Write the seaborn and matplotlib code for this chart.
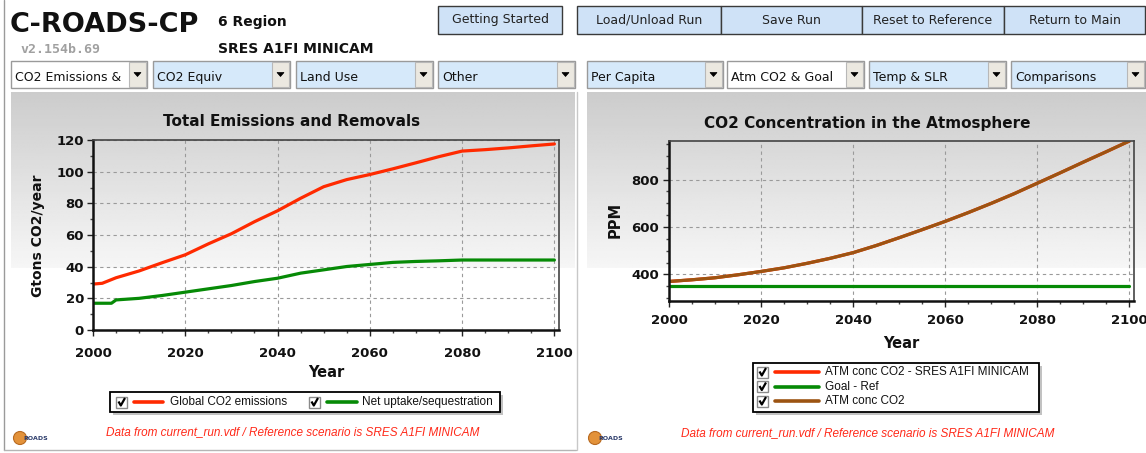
import matplotlib

matplotlib.use("Agg")
import matplotlib.pyplot as plt
import numpy as np
import pandas as pd
import seaborn as sns
from matplotlib.patches import Rectangle, Circle, Polygon
from matplotlib.ticker import MultipleLocator

W, H = 1146, 453

# Left chart: Total Emissions and Removals (Gtons CO2/year)
years_emis = [2000, 2002, 2005, 2010, 2015, 2020, 2025, 2030, 2035, 2040, 2045,
              2050, 2055, 2060, 2065, 2070, 2075, 2080, 2085, 2090, 2095, 2100]
global_co2 = [29.0, 29.5, 33.0, 37.3, 42.5, 47.5, 54.4, 60.8, 68.4, 75.3, 83.2,
              90.5, 95.0, 98.2, 101.8, 105.6, 109.5, 113.0, 113.9, 115.0, 116.3, 117.5]
years_uptake = [2000, 2004, 2005, 2010, 2015, 2020, 2025, 2030, 2035, 2040, 2045,
                2050, 2055, 2060, 2065, 2070, 2075, 2080, 2090, 2100]
net_uptake = [16.9, 16.9, 19.0, 20.0, 21.8, 23.9, 26.0, 28.1, 30.6, 32.7, 35.9,
              38.0, 40.1, 41.4, 42.7, 43.3, 43.7, 44.2, 44.2, 44.2]

# Right chart: CO2 Concentration in the Atmosphere (PPM)
years_ppm = [2000, 2005, 2010, 2015, 2020, 2025, 2030, 2035, 2040, 2045, 2050,
             2055, 2060, 2065, 2070, 2075, 2080, 2085, 2090, 2095, 2100]
atm_co2 = [370.4, 377.5, 386.0, 398.6, 412.7, 428.0, 447.0, 468.0, 492.0, 522.0, 555.0,
           589.0, 624.0, 661.0, 700.0, 741.0, 785.0, 829.0, 874.0, 918.0, 963.0]
atm_co2_ref = [370.4, 377.5, 386.0, 398.6, 412.7, 428.0, 447.0, 468.0, 492.0, 522.0, 555.0,
               589.0, 624.0, 661.0, 700.0, 741.0, 785.0, 829.0, 874.0, 918.0, 963.0]
goal_years = [2000, 2100]
goal_ppm = [350, 350]

left_legend = ["Global CO2 emissions", "Net uptake/sequestration"]
right_legend = ["ATM conc CO2 - SRES A1FI MINICAM", "Goal - Ref", "ATM conc CO2"]
buttons = ["Getting Started", "Load/Unload Run", "Save Run", "Reset to Reference", "Return to Main"]
dropdowns = ["CO2 Emissions &", "CO2 Equiv", "Land Use", "Other",
             "Per Capita", "Atm CO2 & Goal", "Temp & SLR", "Comparisons"]
footer = "Data from current_run.vdf / Reference scenario is SRES A1FI MINICAM"

RED = "#ff2a00"
GREEN = "#068a06"
BROWN = "#9c5412"
FOOT_RED = "#ff2a1a"

sns.set_theme(style="white")
plt.rcParams["font.family"] = ["DejaVu Sans"]

fig = plt.figure(figsize=(W / 100, H / 100), dpi=100)
bg = fig.add_axes([0, 0, 1, 1])
bg.axis("off")


def px_axes(x0, y0, x1, y1):
    return fig.add_axes([x0 / W, 1 - y1 / H, (x1 - x0) / W, (y1 - y0) / H])


# panel backgrounds: gray gradient fading to white
grad = np.linspace(0.80, 0.965, 120)
grad = np.repeat(grad[:, None], 2, axis=1)
for x0, x1 in [(11, 575), (587, 1146)]:
    bg.add_patch(Rectangle((x0, 92), x1 - x0, 358, facecolor="white", edgecolor="none", zorder=0))
    bg.imshow(grad, cmap="gray", vmin=0, vmax=1, extent=(x0, x1, 268, 92),
              aspect="auto", interpolation="bilinear", zorder=1)

bg.set_xlim(0, W)
bg.set_ylim(H, 0)

# frame lines
bg.plot([3.5, 3.5], [0, 450], color="#9a9a9a", lw=1, zorder=2)
bg.plot([3.5, 576], [449.5, 449.5], color="#b5b5b5", lw=1, zorder=2)
bg.plot([576.5, 576.5], [92, 450], color="#c8c8c8", lw=1, zorder=2)

# header
bg.text(10, 32, "C-ROADS-CP", fontsize=19.5, fontweight="bold", color="#111111", va="baseline")
bg.text(20, 53, "v2.154b.69", fontsize=9.5, fontweight="bold", color="#a0a0a0",
        family="DejaVu Sans Mono", va="baseline")
bg.text(218, 26, "6 Region", fontsize=10, fontweight="bold", color="#111111", va="baseline")
bg.text(218, 53, "SRES A1FI MINICAM", fontsize=10, fontweight="bold", color="#111111", va="baseline")

btn_x = [(438, 562), (577, 721), (721, 862), (862, 1004), (1004, 1145)]
for (x0, x1), label in zip(btn_x, buttons):
    bg.add_patch(Rectangle((x0, 6), x1 - x0, 28, facecolor="#cfe2f7", edgecolor="#3a3a3a", lw=1, zorder=3))
    bg.text((x0 + x1) / 2, 20, label, fontsize=9, color="#222222", ha="center", va="center", zorder=4)

dd_x = [(11, 147), (153, 290), (296, 433), (438, 575), (587, 723), (727, 864), (869, 1006), (1011, 1145)]
dd_white = {0, 5}
for i, ((x0, x1), label) in enumerate(zip(dd_x, dropdowns)):
    fc = "white" if i in dd_white else "#d6e9fa"
    bg.add_patch(Rectangle((x0, 61), x1 - x0, 27, facecolor=fc, edgecolor="#9a9a9a", lw=1, zorder=3))
    t = bg.text(x0 + 4, 81, label, fontsize=9, color="#111111", va="baseline", zorder=4)
    bg.add_patch(Rectangle((x1 - 18, 62), 17, 25, facecolor="#ebe8e0", edgecolor="#b8b8b8", lw=0.8, zorder=5))
    cx = x1 - 9.5
    bg.add_patch(Polygon([(cx - 3.5, 72.5), (cx + 3.5, 72.5), (cx, 76.5)], closed=True,
                         facecolor="black", edgecolor="black", lw=0.5, zorder=6))


def style_axes(ax, xpad, ypad):
    ax.set_facecolor("none")
    ax.grid(True, which="major", color="#9a9a9a", linestyle=(0, (3, 3)), linewidth=0.8)
    ax.xaxis.set_major_locator(MultipleLocator(20))
    ax.xaxis.set_minor_locator(MultipleLocator(5))
    for side in ["top", "right"]:
        ax.spines[side].set_color("#444444")
        ax.spines[side].set_linewidth(1.2)
    for side in ["left", "bottom"]:
        ax.spines[side].set_color("#111111")
        ax.spines[side].set_linewidth(1.8)
        ax.spines[side].set_visible(True)
    ax.tick_params(which="major", direction="out", length=4, width=1, color="#222222",
                   bottom=True, left=True, labelsize=9.5, labelcolor="#111111")
    ax.tick_params(which="minor", direction="out", length=2.5, width=1, color="#444444",
                   bottom=True, left=True)
    ax.tick_params(axis="x", pad=xpad)
    ax.tick_params(axis="y", pad=ypad)
    for lab in ax.get_xticklabels() + ax.get_yticklabels():
        lab.set_fontweight("bold")
    ax.set_xlabel("")
    ax.set_ylabel("")


# left chart
axL = px_axes(93, 140, 559, 330)
emis = pd.DataFrame({"year": years_emis, "value": global_co2})
upt = pd.DataFrame({"year": years_uptake, "value": net_uptake})
sns.lineplot(data=emis, x="year", y="value", ax=axL, color=RED, lw=2.3, legend=False)
sns.lineplot(data=upt, x="year", y="value", ax=axL, color=GREEN, lw=2.3, legend=False)
axL.set_xlim(2000, 2101)
axL.set_ylim(0, 120)
axL.yaxis.set_major_locator(MultipleLocator(20))
axL.yaxis.set_minor_locator(MultipleLocator(10))
style_axes(axL, xpad=8, ypad=2.5)

# right chart
axR = px_axes(669, 141, 1134, 301)
ref = pd.DataFrame({"year": years_ppm, "value": atm_co2_ref})
cur = pd.DataFrame({"year": years_ppm, "value": atm_co2})
goal = pd.DataFrame({"year": goal_years, "value": goal_ppm})
sns.lineplot(data=ref, x="year", y="value", ax=axR, color=RED, lw=2.3, legend=False)
sns.lineplot(data=goal, x="year", y="value", ax=axR, color=GREEN, lw=2.3, legend=False)
sns.lineplot(data=cur, x="year", y="value", ax=axR, color=BROWN, lw=2.3, legend=False)
axR.set_xlim(2000, 2101)
axR.set_ylim(288, 963)
axR.yaxis.set_major_locator(MultipleLocator(200))
axR.yaxis.set_minor_locator(MultipleLocator(50))
style_axes(axR, xpad=5.5, ypad=3.4)

# titles and axis labels
bg.text(292, 126, "Total Emissions and Removals", fontsize=11, fontweight="bold",
        color="#111111", ha="center", va="baseline")
bg.text(867, 128, "CO2 Concentration in the Atmosphere", fontsize=11, fontweight="bold",
        color="#111111", ha="center", va="baseline")
bg.text(38, 236, "Gtons CO2/year", fontsize=10, fontweight="bold", color="#111111",
        rotation=90, ha="center", va="center")
bg.text(615, 220, "PPM", fontsize=10.5, fontweight="bold", color="#111111",
        rotation=90, ha="center", va="center")
bg.text(326, 377, "Year", fontsize=10.5, fontweight="bold", color="#111111", ha="center", va="baseline")
bg.text(901, 348, "Year", fontsize=10.5, fontweight="bold", color="#111111", ha="center", va="baseline")


def checkbox(x, y):
    bg.add_patch(Rectangle((x, y - 5.5), 11, 11, facecolor="white", edgecolor="#8a8a8a", lw=1, zorder=8))
    bg.plot([x + 2.5, x + 4.8, x + 9], [y - 0.5, y + 3.5, y - 4], color="black", lw=1.6, zorder=9,
            solid_capstyle="butt")


def legend_box(x0, y0, x1, y1):
    bg.add_patch(Rectangle((x0 + 3, y0 + 3), x1 - x0, y1 - y0, facecolor="#9a9a9a",
                           edgecolor="none", alpha=0.6, zorder=6))
    bg.add_patch(Rectangle((x0, y0), x1 - x0, y1 - y0, facecolor="white",
                           edgecolor="black", lw=1.3, zorder=7))


# left legend
legend_box(110, 392, 500, 412)
for (cbx, lx0, lx1, tx), label, col in zip([(116, 134, 163, 170), (309, 327, 357, 362)],
                                           left_legend, [RED, GREEN]):
    checkbox(cbx, 402)
    bg.plot([lx0, lx1], [402, 402], color=col, lw=2.6, zorder=9)
    bg.text(tx, 402, label, fontsize=8.5, family="Liberation Sans", color="#111111",
            va="center", zorder=9)

# right legend
legend_box(753, 363, 1039, 412)
for yy, label, col in zip([372, 386.5, 401], right_legend, [RED, GREEN, BROWN]):
    checkbox(757, yy)
    bg.plot([775, 819], [yy, yy], color=col, lw=2.6, zorder=9)
    bg.text(825, yy, label, fontsize=8.5, family="Liberation Sans", color="#111111",
            va="center", zorder=9)

# footers and logos
for cx, base, lx in [(293, 435, 20), (868, 436, 595)]:
    bg.text(cx, base, footer, fontsize=8.5, family="Liberation Sans", style="italic",
            color=FOOT_RED, ha="center", va="baseline")
    bg.add_patch(Circle((lx, 438), 6.5, facecolor="#e3923a", edgecolor="#b86a20", lw=0.8, zorder=5))
    bg.text(lx + 3, 438.5, "ROADS", fontsize=4.5, fontweight="bold", color="#2a3a6a",
            va="center", zorder=6)

fig.savefig("out.png", dpi=100)
